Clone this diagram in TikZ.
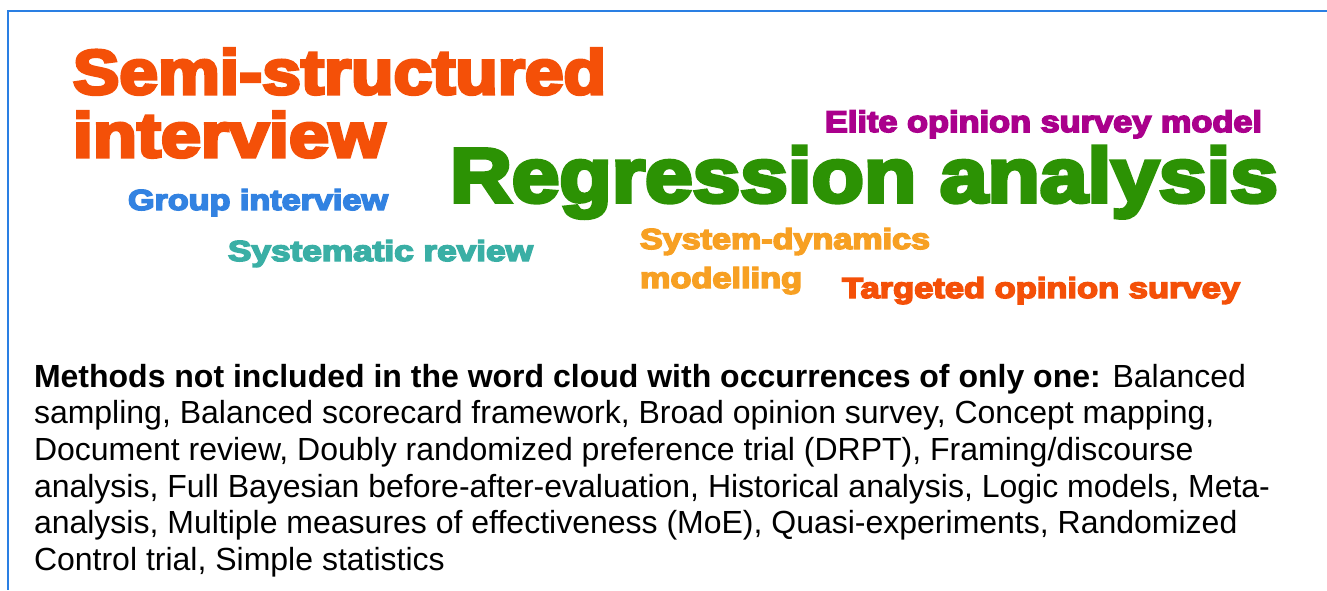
\documentclass[tikz,border=0pt]{standalone}
\usepackage{fontspec}
\usepackage{graphicx}
\setmainfont{Liberation Sans}
\newfontfamily\heavyfont[FakeBold=5]{Liberation Sans Bold}
\definecolor{frameblue}{RGB}{42,127,227}
\definecolor{wcred}{RGB}{244,80,8}
\definecolor{wcgreen}{RGB}{44,146,4}
\definecolor{wcpurple}{RGB}{170,0,140}
\definecolor{wcblue}{RGB}{50,130,225}
\definecolor{wcteal}{RGB}{58,175,165}
\definecolor{wcorange}{RGB}{247,160,35}
\newcommand{\wcsize}[1]{\heavyfont\fontsize{#1}{#1}\selectfont}
\begin{document}
\begin{tikzpicture}[x=1pt,y=-1pt,
  wc/.style={anchor=base west, inner sep=0pt, outer sep=0pt},
  bodyline/.style={anchor=base west, inner sep=0pt, outer sep=0pt, font=\fontsize{32}{36}\selectfont}]
\useasboundingbox (0,0) rectangle (1327,590);
% frame
\coordinate (ftl) at (8,11);
\coordinate (ftr) at (1327,11);
\coordinate (fbl) at (8,590);
\draw[frameblue, line width=2.4pt] (ftr) -- (ftl) -- (fbl);
% word cloud
\node[wc, text=wcred, font=\wcsize{63}] (semi) at (73,94) {\resizebox{533pt}{\height}{Semi-structured}};
\node[wc, text=wcred, font=\wcsize{63}] (interview) at (73,157) {\resizebox{312pt}{\height}{interview}};
\node[wc, text=wcpurple, font=\wcsize{30}] (elite) at (825,132) {\resizebox{437pt}{\height}{Elite opinion survey model}};
\node[wc, text=wcgreen, font=\wcsize{77}] (regr) at (450,202) {\resizebox{828pt}{\height}{Regression analysis}};
\node[wc, text=wcblue, font=\wcsize{29}] (group) at (128,210) {\resizebox{260pt}{\height}{Group interview}};
\node[wc, text=wcteal, font=\wcsize{29}] (sysrev) at (228,261) {\resizebox{305pt}{\height}{Systematic review}};
\node[wc, text=wcorange, font=\wcsize{29}] (sysdyn) at (640,249) {\resizebox{290pt}{\height}{System-dynamics}};
\node[wc, text=wcorange, font=\wcsize{29}] (model) at (640,288) {\resizebox{162pt}{\height}{modelling}};
\node[wc, text=wcred, font=\wcsize{29}] (target) at (842,298) {\resizebox{398pt}{\height}{Targeted opinion survey}};
% body text
\node[bodyline] (l1) at (34,387) {\textbf{Methods not included in the word cloud with occurrences of only one:} Balanced};
\node[bodyline] (l2) at (34,423.7) {sampling, Balanced scorecard framework, Broad opinion survey, Concept mapping,};
\node[bodyline] (l3) at (34,460.4) {Document review, Doubly randomized preference trial (DRPT), Framing/discourse};
\node[bodyline] (l4) at (34,497.1) {analysis, Full Bayesian before-after-evaluation, Historical analysis, Logic models, Meta-};
\node[bodyline] (l5) at (34,533.8) {analysis, Multiple measures of effectiveness (MoE), Quasi-experiments, Randomized};
\node[bodyline] (l6) at (34,570.5) {Control trial, Simple statistics};
\end{tikzpicture}
\end{document}
